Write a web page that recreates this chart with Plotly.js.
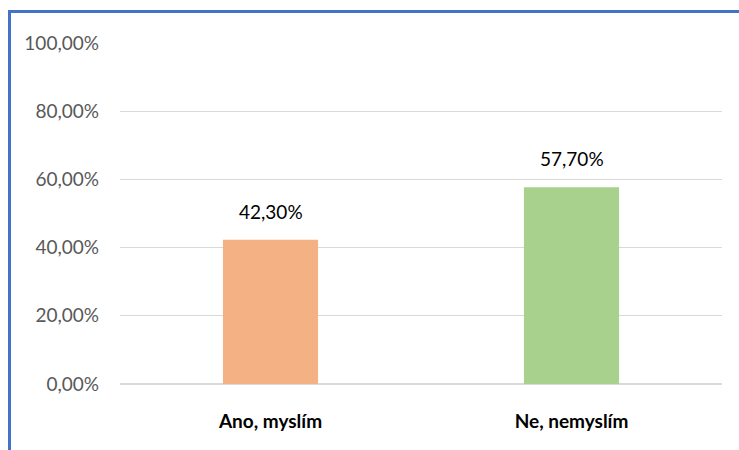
<!DOCTYPE html>
<html>
<head>
<meta charset="utf-8">
<script src="https://cdn.plot.ly/plotly-3.0.1.min.js"></script>
<style>
  html, body { margin: 0; padding: 0; background: #fff; overflow: hidden; }
  #frame { position: absolute; left: 8px; top: 10px; width: 731px; height: 440px;
           border-left: 3px solid #4472C4; border-top: 3px solid #4472C4; box-sizing: border-box; }
  #chart { position: absolute; left: 0; top: 0; width: 728px; height: 437px; }
</style>
</head>
<body>
<div id="frame"><div id="chart"></div></div>
<script>
const categories = ["Ano, myslím", "Ne, nemyslím"];
const values = [42.3, 57.7];
const labels = ["42,30%", "57,70%"];
const colors = ["#F4B183", "#A9D18E"];
const yTicks = [0, 20, 40, 60, 80, 100];
const yTickLabels = ["0,00%", "20,00%", "40,00%", "60,00%", "80,00%", "100,00%"];

const font = "Lato, 'Open Sans', sans-serif";

const trace = {
  type: "bar",
  x: categories,
  y: values,
  marker: { color: colors },
  hoverinfo: "none"
};

const annotations = categories.map((c, i) => ({
  x: c, y: values[i], xref: "x", yref: "y",
  text: labels[i], showarrow: false, yanchor: "bottom", yshift: 15,
  font: { family: font, size: 19, color: "#000" }
}));

const layout = {
  width: 728, height: 437,
  margin: { l: 109, r: 17, t: 30, b: 66 },
  paper_bgcolor: "#fff", plot_bgcolor: "#fff",
  bargap: 0.684,
  showlegend: false,
  xaxis: {
    type: "category",
    tickfont: { family: font, size: 19, color: "#000", weight: "bold" },
    ticks: "", ticklabelstandoff: 24,
    showgrid: false, showline: false, zeroline: false
  },
  yaxis: {
    range: [0, 100],
    tickvals: yTicks, ticktext: yTickLabels,
    tickfont: { family: font, size: 19, color: "#595959" },
    ticklabelstandoff: 20,
    showgrid: true, gridcolor: "#D9D9D9", gridwidth: 1.3,
    zeroline: true, zerolinecolor: "#D9D9D9", zerolinewidth: 1.5,
    showline: false, ticks: ""
  },
  annotations: annotations
};

Plotly.newPlot("chart", [trace], layout, { staticPlot: true, displayModeBar: false });
</script>
</body>
</html>
